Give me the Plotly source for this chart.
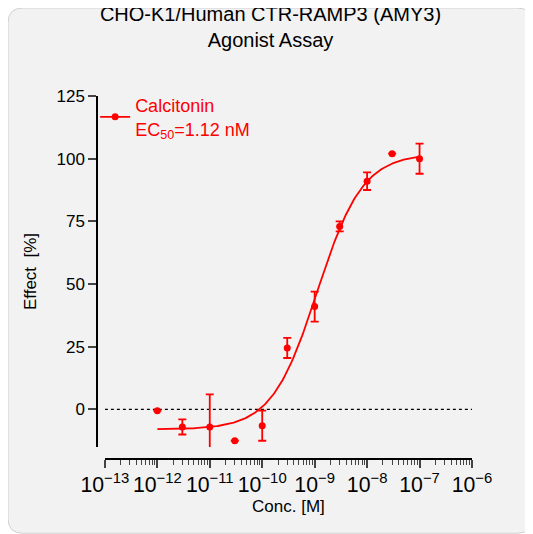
import numpy as np
import plotly.graph_objects as go

# measured points
conc = [1e-12, 3e-12, 1e-11, 3e-11, 1e-10, 3e-10, 1e-9, 3e-9, 1e-8, 3e-8, 1e-7]
effect = [-0.5, -7, -7, -12.5, -6.5, 24.5, 41, 73, 91, 102, 100]
err = [0, 3, 13, 0, 6, 4, 6, 2, 3.5, 0, 6]

# 4PL fit parameters
bottom, top, ec50, hill = -8, 102, 1.12e-9, 1.0

red = '#ff0000'
fig = go.Figure()

xs = np.logspace(-12, -7, 200)
fit = bottom + (top - bottom) / (1 + (ec50 / xs) ** hill)

fig.add_trace(go.Scatter(x=[1e-13, 1e-6], y=[0, 0], mode='lines',
                         line=dict(color='black', width=1.2, dash='dot'),
                         showlegend=False, hoverinfo='skip'))
fig.add_trace(go.Scatter(x=xs, y=fit, mode='lines', line=dict(color=red, width=1.8),
                         showlegend=False))
fig.add_trace(go.Scatter(
    x=conc, y=effect, mode='markers',
    marker=dict(color=red, size=7),
    error_y=dict(type='data', array=err, color=red, thickness=1.8, width=4),
    showlegend=False))
# legend entry: line + marker
fig.add_trace(go.Scatter(x=[None], y=[None], mode='lines+markers',
                         line=dict(color=red, width=1.8), marker=dict(color=red, size=7),
                         name='Calcitonin<br>EC<sub>50</sub>=1.12 nM'))

# rounded background (page body adds an 8px offset, so the figure is 8px smaller)
x0, x1, y0, y1 = -89 / 375, 1.0 + 61 / 375 - 0.002, -75 / 363 + 0.002, 1.0 + 88 / 363
rx, ry = 15 / 375, 15 / 363
path = (f"M {x0+rx},{y0} L {x1-rx},{y0} Q {x1},{y0} {x1},{y0+ry} "
        f"L {x1},{y1-ry} Q {x1},{y1} {x1-rx},{y1} L {x0+rx},{y1} "
        f"Q {x0},{y1} {x0},{y1-ry} L {x0},{y0+ry} Q {x0},{y0} {x0+rx},{y0} Z")
fig.add_shape(type='path', path=path, xref='paper', yref='paper', layer='below',
              fillcolor='#f2f2f2', line=dict(color='#d0d0d0', width=1))

fig.update_layout(
    width=525, height=526,
    margin=dict(l=89, r=61, t=88, b=75),
    paper_bgcolor='white', plot_bgcolor='rgba(0,0,0,0)',
    font=dict(family='Arial, Liberation Sans, sans-serif', color='black', size=15),
    title=dict(text='CHO-K1/Human CTR-RAMP3 (AMY3)<br>Agonist Assay', x=0.5, xanchor='center',
               y=0.975, yanchor='top', font=dict(size=20)),
    legend=dict(x=-0.005, y=1.025, xanchor='left', yanchor='top', bgcolor='rgba(0,0,0,0)',
                font=dict(size=18, color=red)),
    xaxis=dict(type='log', range=[-13, -6], dtick=1, domain=[0.021, 1],
               exponentformat='power', showgrid=False, zeroline=False,
               showline=True, linecolor='black', linewidth=1.5,
               ticks='outside', ticklen=8, tickwidth=1.5,
               minor=dict(ticks='outside', ticklen=5, tickwidth=1, dtick='D1'),
               anchor='free', position=0,
               title=dict(text='Conc. [M]', standoff=2, font=dict(size=17)),
               tickfont=dict(size=17)),
    yaxis=dict(range=[-15, 125], dtick=25, domain=[0.033, 1],
               showgrid=False, zeroline=False, showline=True, linecolor='black',
               linewidth=1.5, ticks='outside', ticklen=8, tickwidth=1.5,
               anchor='free', position=0,
               title=dict(text='Effect  [%]', font=dict(size=17)),
               tickfont=dict(size=17)),
)

fig.write_html("out.html")
